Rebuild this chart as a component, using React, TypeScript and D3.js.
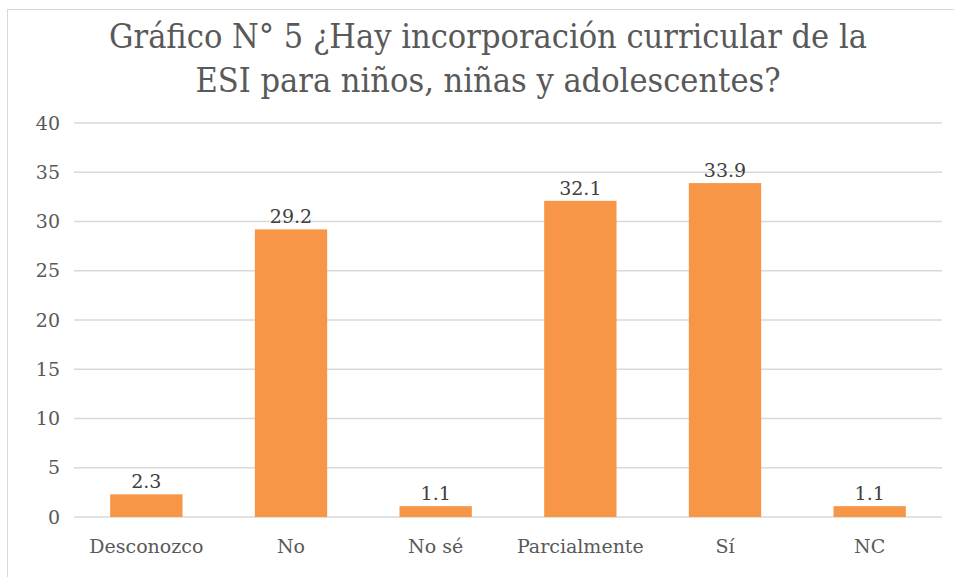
import React from "react";
import * as d3 from "d3";

const categories = ["Desconozco", "No", "No sé", "Parcialmente", "Sí", "NC"];
const values = [2.3, 29.2, 1.1, 32.1, 33.9, 1.1];
const yTicks = [0, 5, 10, 15, 20, 25, 30, 35, 40];
const titleLines = ["Gráfico N° 5 ¿Hay incorporación curricular de la", "ESI para niños, niñas y adolescentes?"];

const W = 954;
const H = 577;
const M = { left: 74, right: 12, top: 123, bottom: 60 };

export default function App() {
  const x = d3
    .scaleBand<string>()
    .domain(categories)
    .range([M.left, W - M.right])
    .paddingInner(0.5)
    .paddingOuter(0.25);
  const y = d3.scaleLinear().domain([0, 40]).range([517, 123]);
  const labelFont = "'DejaVu Serif', serif";
  return (
    <svg width={W} height={H} style={{ position: "absolute", left: 0, top: 0 }}>
      <rect x={0} y={0} width={W} height={H} fill="#fff" />
      <line x1={7.5} y1={9} x2={7.5} y2={H} stroke="#d9d9d9" strokeWidth={1} />
      <line x1={7} y1={9.5} x2={W} y2={9.5} stroke="#d9d9d9" strokeWidth={1} />
      {titleLines.map((t, i) => (
        <text
          key={i}
          x={488}
          y={48 + i * 44}
          textAnchor="middle"
          fontFamily="'DejaVu Serif Condensed', 'DejaVu Serif', serif"
          fontStretch="condensed"
          fontSize={34}
          fill="#595959"
        >
          {t}
        </text>
      ))}
      {yTicks.map((t) => (
        <g key={t}>
          <line x1={M.left} x2={942} y1={y(t)} y2={y(t)} stroke="#d9d9d9" strokeWidth={1.5} />
          <text x={60} y={y(t)} dy="0.35em" textAnchor="end" fontFamily={labelFont} fontSize={19} fill="#595959">
            {t}
          </text>
        </g>
      ))}
      {categories.map((c, i) => (
        <g key={c}>
          <rect x={x(c)} y={y(values[i])} width={x.bandwidth()} height={y(0) - y(values[i])} fill="#F79646" />
          <text
            x={(x(c) as number) + x.bandwidth() / 2}
            y={y(values[i]) - 6}
            textAnchor="middle"
            fontFamily={labelFont}
            fontSize={19}
            fill="#404040"
          >
            {values[i].toFixed(1)}
          </text>
          <text
            x={(x(c) as number) + x.bandwidth() / 2}
            y={553}
            textAnchor="middle"
            fontFamily={labelFont}
            fontSize={19}
            fill="#595959"
          >
            {c}
          </text>
        </g>
      ))}
    </svg>
  );
}
